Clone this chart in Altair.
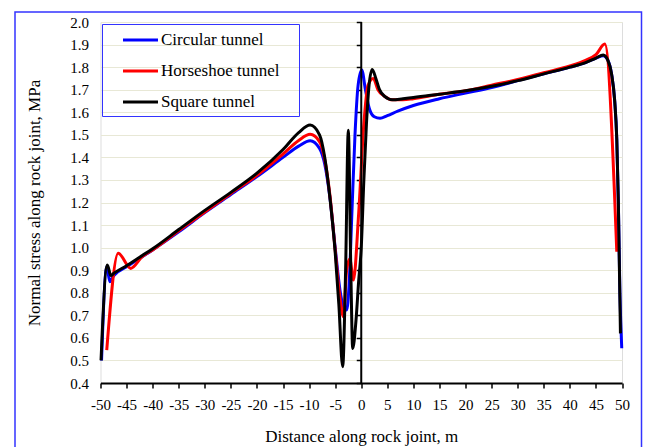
import altair as alt
import pandas as pd

# ---------------- data ----------------
series_names = ["Circular tunnel", "Horseshoe tunnel", "Square tunnel"]
series_colors = ["#0000FF", "#FF0000", "#000000"]

circ_x = [-49.8, -48.8, -48.2, -47.5, -45, -42, -40, -35, -30, -25, -20, -15, -12, -9.8, -8, -7, -6, -5, -4,
          -3.3, -2.8, -2.3, -1.8, -1.2, -0.6, 0.1, 0.8, 1.5, 2.5, 3.6, 5, 7, 10, 15, 20, 25, 30, 35, 40, 43, 45,
          46.4, 47.3, 48, 48.6, 49, 49.3, 49.6, 49.95]
circ_y = [0.50, 0.915, 0.849, 0.875, 0.915, 0.96, 0.99, 1.07, 1.155, 1.235, 1.315, 1.40, 1.45, 1.474, 1.44, 1.37,
          1.22, 1.0, 0.80, 0.73, 0.723, 0.85, 1.15, 1.5, 1.72, 1.787, 1.70, 1.62, 1.58, 1.573, 1.585, 1.605, 1.63,
          1.66, 1.685, 1.71, 1.74, 1.77, 1.80, 1.82, 1.84, 1.85, 1.83, 1.77, 1.65, 1.48, 1.2, 0.8, 0.554]

horse_x = [-48.8, -46.6, -44.2, -42, -40, -35, -30, -25, -20, -15, -12, -9.8, -8, -7, -6, -5, -4.2, -3.43, -2.8,
           -2.2, -1.5, -0.5, 0.5, 1.3, 2.3, 3.2, 4.5, 6, 8, 10, 15, 20, 25, 30, 35, 40, 43, 45, 46.7, 49.0]
horse_y = [0.546, 0.975, 0.908, 0.96, 0.99, 1.075, 1.158, 1.24, 1.32, 1.415, 1.475, 1.502, 1.47, 1.39, 1.23, 0.99,
           0.80, 0.694, 0.90, 0.95, 0.856, 1.15, 1.55, 1.72, 1.75, 1.70, 1.67, 1.655, 1.655, 1.66, 1.68, 1.695,
           1.72, 1.745, 1.775, 1.805, 1.83, 1.855, 1.902, 0.982]

sq_x = [-49.9, -48.7, -48.0, -47.5, -45, -42, -40, -35, -30, -25, -20, -15, -12, -9.8, -8, -7, -6, -5, -4.3,
        -3.56, -3.0, -2.48, -2.0, -1.64, -1.0, -0.5, 0, 0.5, 1.0, 1.5, 2.1, 2.8, 3.5, 4.5, 6, 8, 10, 15, 20, 25,
        30, 35, 40, 43, 45, 46.4, 47.3, 48, 48.6, 49, 49.3, 49.7]
sq_y = [0.50, 0.923, 0.876, 0.885, 0.92, 0.965, 0.995, 1.08, 1.165, 1.245, 1.33, 1.435, 1.51, 1.543, 1.50, 1.40,
        1.22, 0.98, 0.75, 0.472, 0.90, 1.52, 0.90, 0.553, 0.68, 0.85, 1.0, 1.3, 1.55, 1.72, 1.79, 1.75, 1.70,
        1.67, 1.655, 1.66, 1.665, 1.68, 1.695, 1.715, 1.74, 1.77, 1.80, 1.82, 1.84, 1.854, 1.83, 1.77, 1.65,
        1.48, 1.2, 0.62]

x_ticks = list(range(-50, 51, 5))
y_ticks = [round(0.4 + 0.1 * i, 1) for i in range(17)]

# ---------------- build table ----------------
rows = []
for name, xs, ys in zip(series_names, [circ_x, horse_x, sq_x], [circ_y, horse_y, sq_y]):
    for i, (xv, yv) in enumerate(zip(xs, ys)):
        rows.append({"series": name, "x": xv, "y": yv, "idx": i})
df = pd.DataFrame(rows)

FONT = "Liberation Serif"
W, H = 521.5, 361
x_scale = alt.Scale(domain=[-50, 50], nice=False, zero=False)
y_scale = alt.Scale(domain=[0.4, 2.0], nice=False, zero=False)

x_axis = alt.Axis(values=x_ticks, labelExpr="datum.value + ''", title="Distance along rock joint, m",
                  grid=False, domainColor="black", domainWidth=2, tickColor="black",
                  tickSize=5, tickWidth=1.5, labelPadding=9, labelFont=FONT, labelFontSize=15,
                  labelColor="black", titleFont=FONT, titleFontSize=17, titleFontWeight="normal",
                  titleColor="black", titleX=W / 2, titleY=53, titleBaseline="middle",
                  labelFlush=False, labelOverlap=False, labelBound=False)

lines = alt.Chart(df).mark_line(strokeWidth=3, interpolate="monotone").encode(
    x=alt.X("x:Q", scale=x_scale, axis=x_axis),
    y=alt.Y("y:Q", scale=y_scale,
            axis=alt.Axis(orient="left", values=y_ticks, format=".1f",
                          title="Normal stress along rock joint, MPa",
                          grid=True, gridColor="#E8E8D6", gridWidth=1, domain=False, ticks=False,
                          labelPadding=12, labelFont=FONT, labelFontSize=15, labelColor="black",
                          titleFont=FONT, titleFontSize=17, titleFontWeight="normal", titleColor="black",
                          titleAngle=270, titleX=-66, titleY=H / 2, titleAlign="center",
                          titleBaseline="middle", labelFlush=False, labelOverlap=False)),
    color=alt.Color("series:N", scale=alt.Scale(domain=series_names, range=series_colors),
                    legend=alt.Legend(orient="none", legendX=1.5, legendY=2, title=" ",
                                      titleOrient="right", titlePadding=14, titleFontSize=6,
                                      strokeColor="#3333FF", padding=5.5,
                                      symbolType="M-2,0H2", symbolSize=306, symbolStrokeWidth=3,
                                      symbolOffset=22.5, labelOffset=10,
                                      labelFont=FONT, labelFontSize=17, labelColor="black",
                                      rowPadding=12)),
    order=alt.Order("idx:Q"),
)

# vertical axis line crossing at x = 0 with its tick marks
axis_df = pd.DataFrame({"x": [0], "y": [0.4], "y2": [2.0]})
center_axis = alt.Chart(axis_df).mark_rule(color="black", strokeWidth=2).encode(
    x=alt.X("x:Q", scale=x_scale, axis=x_axis),
    y=alt.Y("y:Q", scale=y_scale,
            axis=alt.Axis(orient="left", offset=-W / 2, values=y_ticks, labels=False, domain=False,
                          grid=False, ticks=True, tickSize=5, tickColor="black", tickWidth=1.5,
                          title=None)),
    y2="y2:Q",
)

frame = alt.Chart(pd.DataFrame({"a": [0]})).mark_rect(
    fillOpacity=0, stroke="#3333FF", strokeWidth=1.5
).encode(x=alt.value(-85.5), x2=alt.value(541), y=alt.value(-10), y2=alt.value(440))

chart = alt.layer(frame, lines, center_axis).resolve_axis(y="independent").properties(
    width=W, height=H,
    autosize=alt.AutoSizeParams(type="none"),
    padding={"left": 100.5, "top": 22, "right": 27, "bottom": 64},
).configure_view(stroke=None).configure_legend(strokeWidth=1.5).configure(background="white")

chart.save("out.html", embed_options={"renderer": "svg", "actions": False})
